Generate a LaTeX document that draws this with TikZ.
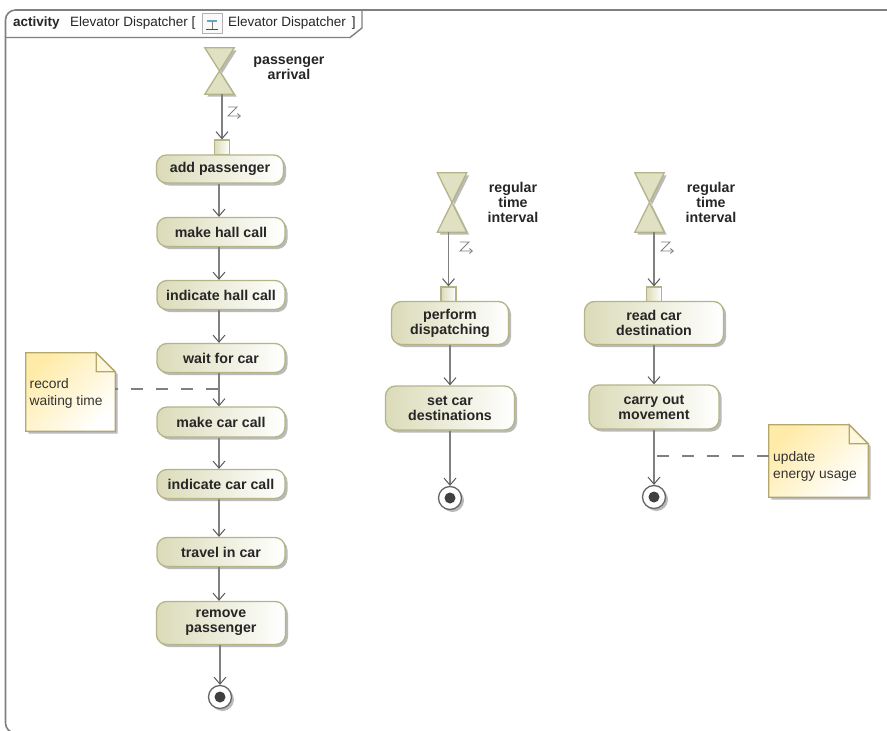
\documentclass[tikz,border=0pt]{standalone}
\usepackage{fontspec}
\setmainfont{Liberation Sans}
\usetikzlibrary{arrows.meta,shadows,calc}

\definecolor{edgegray}{HTML}{808080}
\definecolor{actionfill}{HTML}{DBDBB9}
\definecolor{actionline}{HTML}{B4B488}
\definecolor{notefill}{HTML}{FFEBA8}
\definecolor{noteline}{HTML}{B3A76E}

\tikzset{
  >={Straight Barb[length=7pt,width=12pt,line width=1pt,black!65]},
  softshadow/.style={drop shadow={shadow xshift=2.5pt,shadow yshift=-2.5pt,fill=black!45,opacity=0.6}},
  flow/.style={draw=edgegray,line width=1.7pt,->},
  action/.style={draw=actionline,line width=1.3pt,rounded corners=10pt,left color=actionfill,right color=white,
    softshadow,align=center,font=\bfseries\fontsize{14.2}{15}\selectfont,text=black!85,inner sep=0pt},
  pinbox/.style={draw=actionline,line width=1.3pt,left color=actionfill,right color=white,minimum size=15pt,inner sep=0pt},
  evlabel/.style={align=center,font=\bfseries\fontsize{14.2}{15}\selectfont,text=black!85},
  frametext/.style={anchor=west,inner sep=0pt,font=\fontsize{13.5}{15}\selectfont,text=black!85},
  notetext/.style={align=left,anchor=west,inner sep=0pt,font=\fontsize{13.8}{17}\selectfont,text=black!80},
  notelink/.style={draw=edgegray,line width=1.6pt,dash pattern=on 12pt off 13pt},
  hourglass/.style={minimum width=29pt,minimum height=46pt,inner sep=0pt,
    append after command={
      \pgfextra{\path[draw=actionline,line width=1.3pt,fill=actionfill!85!white,softshadow]
        (\tikzlastnode.north west) -- (\tikzlastnode.north east) -- (\tikzlastnode.south west)
        -- (\tikzlastnode.south east) -- cycle;}}},
  notebox/.style={inner sep=0pt,
    append after command={
      \pgfextra{\path[draw=noteline,line width=1.3pt,left color=notefill,right color=white,shading angle=45,softshadow]
        (\tikzlastnode.north west) -- ([xshift=-19pt]\tikzlastnode.north east)
        -- ([yshift=-19pt]\tikzlastnode.north east) -- (\tikzlastnode.south east)
        -- (\tikzlastnode.south west) -- cycle;
      \draw[noteline,line width=1.3pt,fill=notefill!40]
        ([xshift=-19pt]\tikzlastnode.north east) -- ([xshift=-19pt,yshift=-19pt]\tikzlastnode.north east)
        -- ([yshift=-19pt]\tikzlastnode.north east) -- cycle;}}},
  endnode/.style={circle,draw=black!60,line width=1.3pt,fill=white,minimum size=23pt,inner sep=0pt,softshadow},
  enddot/.style={circle,fill=black!75,minimum size=11pt,inner sep=0pt},
}

% one pixel of the reference is one point here
\newcommand{\zmark}[1]{
  \draw[edgegray,line width=0.9pt,-{Straight Barb[length=3pt,width=5pt]}]
    ($(#1)+(0,-5)$) -- ++(9,0) -- ++(-9,9) -- ++(13,0);
}

\begin{document}
\begin{tikzpicture}[x=1pt,y=-1pt]
  \useasboundingbox (0,0) rectangle (887,731);

  % frame
  \draw[edgegray,line width=1.6pt,rounded corners=10pt] (40,733) -- (5.5,733) -- (5.5,10) -- (895,10);
  \draw[edgegray,line width=1.4pt] (5.5,37.5) -- (350,37.5) -- (362,28) -- (362,10);
  \node (framekind) at (13,23) [frametext] {\textbf{activity}};
  \node (framename) at (70,23) [frametext] {Elevator Dispatcher [};
  \node (diagicon) at (212,23) [draw=black!30,line width=0.9pt,fill=black!2,minimum size=20pt,inner sep=0pt] {};
  \node (frameref) at (228,23) [frametext] {Elevator Dispatcher\hspace{6pt}]};
  \draw[black!70,line width=1pt] ($(diagicon.south)+(-6,-4)$) -- ++(12,0);
  \draw[black!50,line width=0.8pt] ($(diagicon.south)+(0,-4)$) -- ++(0,-7);
  \draw[cyan!50!gray,line width=1.2pt] ($(diagicon.center)+(-5,-2)$) -- ++(10,0);

  % passenger column
  \coordinate (axis1) at (219,0);
  \node (arrive) at (219.5,71) [hourglass] {};
  \node (arrivetext) at (289,68) [evlabel] {passenger\\arrival};
  \node (addpin) at (222,147.5) [pinbox] {};
  \node (add) at (220,169) [action,minimum width=127pt,minimum height=28pt] {add passenger};
  \node (hall) at (221,232) [action,minimum width=128pt,minimum height=29pt] {make hall call};
  \node (indhall) at (221,295) [action,minimum width=128pt,minimum height=29pt] {indicate hall call};
  \node (wait) at (221,358) [action,minimum width=128pt,minimum height=29pt] {wait for car};
  \node (car) at (221,422) [action,minimum width=128pt,minimum height=30pt] {make car call};
  \node (indcar) at (221,484) [action,minimum width=128pt,minimum height=29pt] {indicate car call};
  \node (travel) at (221,552) [action,minimum width=128pt,minimum height=29pt] {travel in car};
  \node (remove) at (221,623) [action,minimum width=129pt,minimum height=43pt] {remove\\passenger};
  \node (end1) at (220,697) [endnode] {};
  \node (enddot1) at (end1) [enddot] {};

  \draw[flow] (arrive.south -| addpin) -- (addpin.north);
  \draw[flow] (add.south -| axis1) -- (hall.north -| axis1);
  \draw[flow] (hall.south -| axis1) -- (indhall.north -| axis1);
  \draw[flow] (indhall.south -| axis1) -- (wait.north -| axis1);
  \draw[flow] (wait.south -| axis1) -- (car.north -| axis1);
  \draw[flow] (car.south -| axis1) -- (indcar.north -| axis1);
  \draw[flow] (indcar.south -| axis1) -- (travel.north -| axis1);
  \draw[flow] (travel.south -| axis1) -- (remove.north -| axis1);
  \draw[flow] (remove.south -| end1) -- (end1.north);

  % dispatching column
  \node (tick1) at (452,202.5) [hourglass,minimum height=59pt] {};
  \node (tick1text) at (513,202) [evlabel] {regular\\time\\interval};
  \node (disppin) at (448.5,294.5) [pinbox] {};
  \node (disp) at (450,323) [action,minimum width=117pt,minimum height=43pt] {perform\\dispatching};
  \node (setdest) at (450,408) [action,minimum width=129pt,minimum height=44pt] {set car\\destinations};
  \node (end2) at (450,498) [endnode] {};
  \node (enddot2) at (end2) [enddot] {};

  \draw[flow] (tick1.south -| disppin) -- (disppin.north);
  \draw[flow] (disp) -- (setdest);
  \draw[flow] (setdest) -- (end2);

  % movement column
  \node (tick2) at (649.5,202.5) [hourglass,minimum height=59pt] {};
  \node (tick2text) at (711,202) [evlabel] {regular\\time\\interval};
  \node (readpin) at (654,294.5) [pinbox] {};
  \node (read) at (654,323) [action,minimum width=139pt,minimum height=43pt] {read car\\destination};
  \node (carry) at (654,407) [action,minimum width=130pt,minimum height=44pt] {carry out\\movement};
  \node (end3) at (654,497) [endnode] {};
  \node (enddot3) at (end3) [enddot] {};

  \draw[flow] (tick2.south -| readpin) -- (readpin.north);
  \draw[flow] (read) -- (carry);
  \draw[flow] (carry) -- (end3);

  % notes
  \node (note1) at (70.5,392) [notebox,minimum width=89pt,minimum height=78pt] {};
  \node (note1text) at (note1) [notetext,xshift=-41pt,yshift=-1pt] {record\\waiting time};
  \node (note2) at (818.5,461) [notebox,minimum width=99pt,minimum height=72pt] {};
  \node (note2text) at (note2) [notetext,xshift=-45.5pt,yshift=-5pt] {update\\energy usage};

  \coordinate (joinwait) at (219,389);
  \coordinate (joincarry) at (654,456);
  \draw[notelink,dash phase=9.5pt] (note1.east |- joinwait) -- (joinwait);
  \draw[notelink] (note2.west |- joincarry) -- (joincarry);

  \zmark{228,112}
  \zmark{460,247}
  \zmark{661,247}
\end{tikzpicture}
\end{document}
